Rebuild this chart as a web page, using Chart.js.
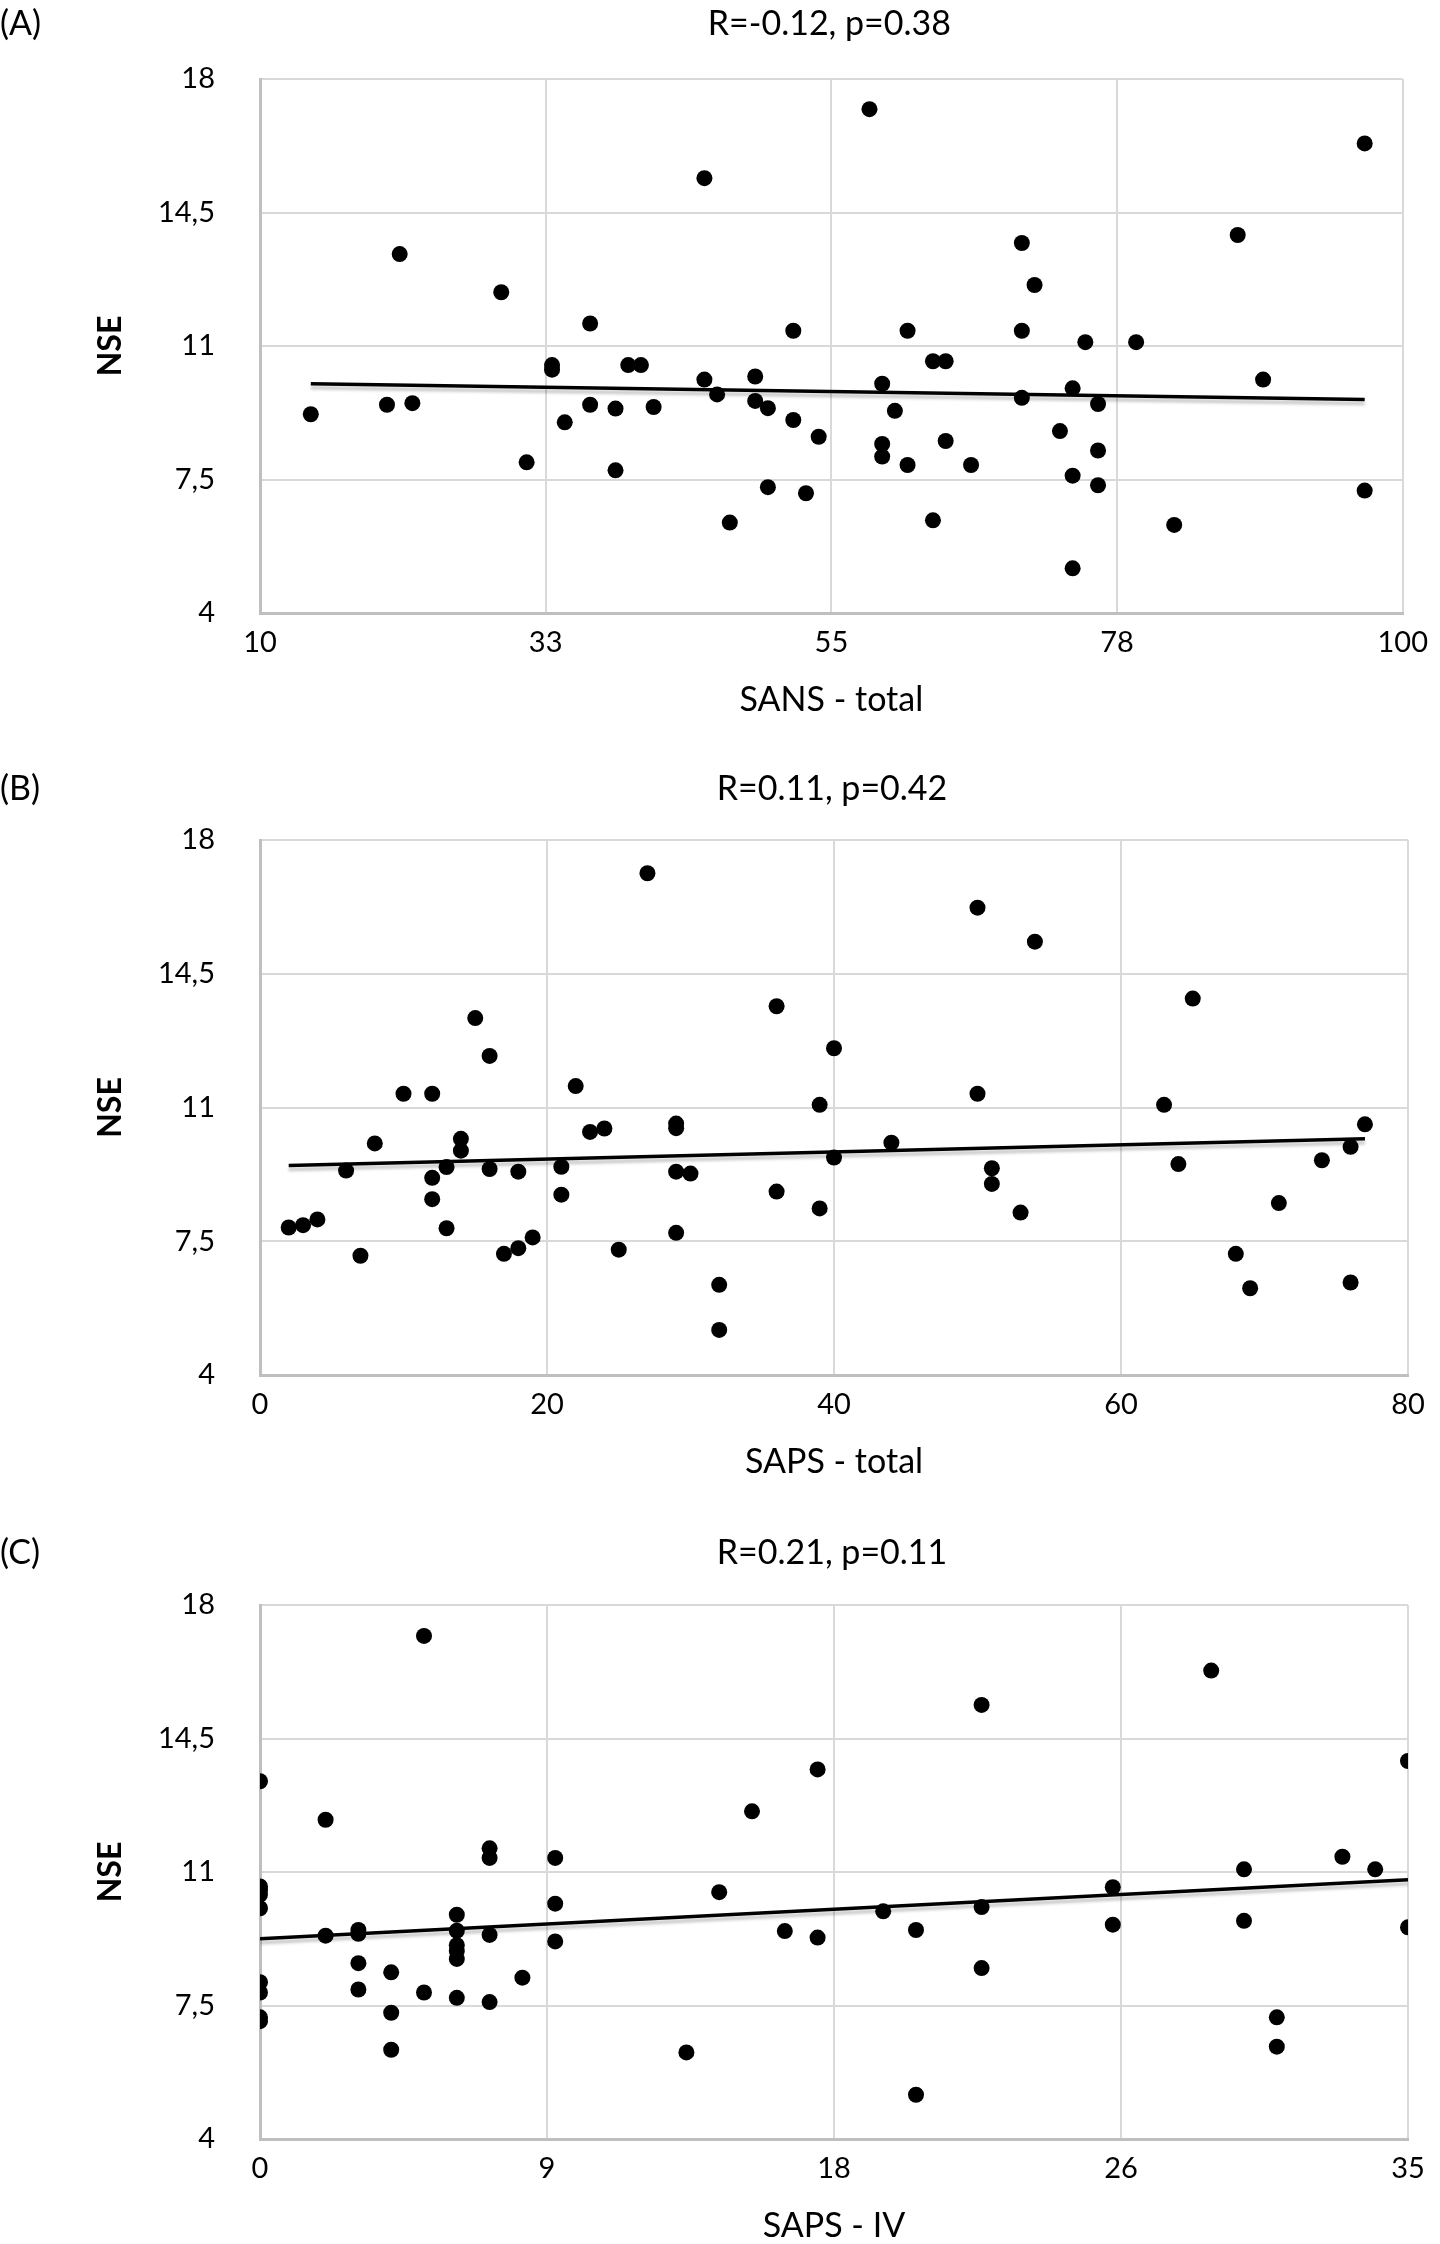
<!DOCTYPE html>
<html>
<head>
<meta charset="utf-8">
<title>NSE scatter</title>
<script src="https://cdn.jsdelivr.net/npm/chart.js@4.4.1/dist/chart.umd.min.js"></script>
<style>
  html, body { margin: 0; padding: 0; background: #fff; overflow: hidden; }
  .panel { position: absolute; left: 0; width: 1440px; height: 765px; }
</style>
</head>
<body>
<div class="panel" style="top:0px"><canvas id="chartA" width="1440" height="765"></canvas></div>
<div class="panel" style="top:765px"><canvas id="chartB" width="1440" height="765"></canvas></div>
<div class="panel" style="top:1530px"><canvas id="chartC" width="1440" height="765"></canvas></div>
<script>
// shared y axis
var yTickLabels = ['4', '7,5', '11', '14,5', '18'];

// (A) SANS - total vs NSE
var sansTotal = [14, 20, 22, 21, 29, 31, 33, 33, 34, 36, 36, 38, 38, 39, 40, 41, 45, 45, 46, 47,
  49, 49, 50, 50, 52, 52, 53, 54, 58, 59, 59, 59, 60, 61, 61, 63, 63, 64, 64, 66,
  70, 70, 70, 71, 73, 74, 74, 74, 75, 76, 76, 76, 79, 82, 87, 89, 97, 97];
var nseA = [9.21, 9.46, 9.5, 13.41, 12.41, 7.95, 10.5, 10.38, 9.0, 11.59, 9.46, 9.36, 7.74, 10.5, 10.5, 9.4, 15.4, 10.12, 9.73, 6.37,
  10.2, 9.56, 9.37, 7.3, 11.4, 9.06, 7.14, 8.62, 17.21, 10.01, 8.43, 8.1, 9.3, 11.4, 7.88, 10.6, 6.43, 10.6, 8.51, 7.88,
  13.7, 11.4, 9.64, 12.6, 8.77, 9.89, 7.6, 5.17, 11.1, 9.48, 8.26, 7.35, 11.1, 6.31, 13.91, 10.12, 16.31, 7.21];
var trendA = [[14, 10.01], [97, 9.6]];
var xTickLabelsA = ['10', '33', '55', '78', '100'];

// (B) SAPS - total vs NSE
var sapsTotal = [2, 3, 4, 6, 7, 8, 10, 12, 12, 12, 13, 13, 14, 14, 15, 16, 16, 17, 18, 18,
  19, 21, 21, 22, 23, 24, 25, 27, 29, 29, 29, 29, 30, 32, 32, 36, 36, 39, 39, 40,
  40, 44, 50, 50, 51, 51, 53, 54, 63, 64, 65, 68, 69, 71, 74, 76, 76, 77];
var nseB = [7.86, 7.92, 8.07, 9.35, 7.12, 10.06, 11.36, 11.36, 9.16, 8.6, 9.44, 7.84, 10.18, 9.87, 13.34, 12.35, 9.39, 7.17, 9.32, 7.32,
  7.6, 9.45, 8.72, 11.56, 10.36, 10.45, 7.28, 17.13, 10.58, 10.46, 9.32, 7.72, 9.27, 6.36, 5.18, 13.65, 8.8, 11.07, 8.36, 12.55,
  9.69, 10.08, 16.23, 11.36, 9.41, 9.0, 8.25, 15.34, 11.07, 9.52, 13.85, 7.17, 6.27, 8.5, 9.62, 9.97, 6.42, 10.56];
var trendB = [[2, 9.48], [77, 10.18]];
var xTickLabelsB = ['0', '20', '40', '60', '80'];

// (C) SAPS - IV vs NSE
var sapsIV = [0, 0, 0, 0, 0, 0, 0, 0, 0, 2, 2, 3, 3, 3, 3, 4, 4, 4, 5, 5,
  6, 6, 6, 6, 6, 6, 7, 7, 7, 7, 8, 9, 9, 9, 13, 14, 15, 16, 17, 17,
  19, 20, 20, 22, 22, 22, 26, 26, 29, 30, 30, 31, 31, 33, 34, 35, 35];
var nseC = [13.38, 10.62, 10.53, 10.41, 10.05, 8.11, 7.84, 7.19, 7.09, 12.37, 9.33, 9.48, 9.38, 8.61, 7.92, 8.37, 7.31, 6.34, 17.19, 7.84,
  9.88, 9.46, 9.08, 8.93, 8.72, 7.7, 11.62, 11.37, 9.35, 7.59, 8.23, 11.37, 10.17, 9.18, 6.27, 10.47, 12.59, 9.45, 13.69, 9.28,
  9.97, 9.48, 5.16, 15.38, 10.08, 8.48, 10.6, 9.62, 16.28, 11.07, 9.72, 7.19, 6.42, 11.4, 11.07, 13.91, 9.55];
var trendC = [[0, 9.25], [35, 10.8]];
var xTickLabelsC = ['0', '9', '18', '26', '35'];

Chart.defaults.font.family = 'Lato';
Chart.defaults.color = '#000';

function toPoints(xs, ys) {
  var pts = [];
  for (var i = 0; i < xs.length; i++) pts.push({ x: xs[i], y: ys[i] });
  return pts;
}

// even ticks from min to max, one per label
function evenTicks(labels) {
  return function(scale) {
    var n = labels.length - 1;
    var lo = scale.options.min, hi = scale.options.max;
    scale.ticks = labels.map(function(_, i) { return { value: lo + i * (hi - lo) / n }; });
  };
}

// soft grey shadow under the trend line (Excel look)
var trendShadow = {
  id: 'trendShadow',
  beforeDatasetDraw: function(chart, args) {
    if (args.index !== 0) return;
    var ctx = chart.ctx;
    ctx.save();
    ctx.shadowColor = 'rgba(0,0,0,0.22)';
    ctx.shadowOffsetY = 4;
    ctx.shadowBlur = 3;
  },
  afterDatasetDraw: function(chart, args) {
    if (args.index !== 0) return;
    chart.ctx.restore();
  }
};

var panelText = {
  id: 'panelText',
  afterDraw: function(chart, args, opts) {
    var ctx = chart.ctx, a = chart.chartArea;
    ctx.save();
    ctx.fillStyle = '#000';
    ctx.font = '34px Lato';
    ctx.textBaseline = 'middle';
    ctx.textAlign = 'left';
    ctx.fillText(opts.letter, 0, opts.y);
    ctx.textAlign = 'center';
    ctx.fillText(opts.title, (a.left + a.right) / 2 - 2, opts.y);
    ctx.restore();
  }
};

function makePanel(id, p) {
  var ctx = document.getElementById(id);
  return new Chart(ctx, {
    type: 'scatter',
    data: {
      datasets: [
        {
          label: 'trend',
          data: p.trend.map(function(t) { return { x: t[0], y: t[1] }; }),
          showLine: true,
          borderColor: '#000',
          borderWidth: 3.5,
          pointRadius: 0
        },
        {
          label: 'NSE',
          data: toPoints(p.xs, p.ys),
          backgroundColor: '#000',
          borderWidth: 0,
          pointRadius: 8
        }
      ]
    },
    options: {
      responsive: false,
      devicePixelRatio: 1,
      animation: false,
      events: [],
      layout: { padding: { left: 0, right: 32, top: p.top, bottom: 765 - p.bottom - 110 } },
      plugins: {
        legend: { display: false },
        tooltip: { enabled: false },
        panelText: { letter: p.letter, title: p.title, y: p.titleY }
      },
      scales: {
        x: {
          type: 'linear',
          min: p.xMin,
          max: p.xMax,
          afterBuildTicks: evenTicks(p.xLabels),
          afterFit: function(s) { s.height = 110; },
          ticks: {
            padding: 12,
            font: { size: 29 },
            callback: function(v, i) { return p.xLabels[i]; }
          },
          grid: { color: '#d9d9d9', lineWidth: 2, drawTicks: false },
          border: { color: '#bfbfbf', width: 3 },
          title: { display: true, text: p.xTitle, font: { size: 34 }, padding: { top: 0, bottom: 3 } }
        },
        y: {
          type: 'linear',
          min: 4,
          max: 18,
          afterBuildTicks: evenTicks(yTickLabels),
          afterFit: function(s) { s.width = 260; },
          ticks: {
            padding: 45,
            font: { size: 29 },
            callback: function(v, i) { return yTickLabels[i]; }
          },
          grid: { color: '#d9d9d9', lineWidth: 2, drawTicks: false },
          border: { color: '#bfbfbf', width: 3 },
          title: { display: true, text: 'NSE', font: { size: 32, weight: 'bold' }, padding: { top: 91, bottom: 0 } }
        }
      }
    },
    plugins: [trendShadow, panelText]
  });
}

makePanel('chartA', {
  letter: '(A)', title: 'R=-0.12, p=0.38', titleY: 24, top: 79, bottom: 613,
  xs: sansTotal, ys: nseA, trend: trendA, xMin: 10, xMax: 100, xLabels: xTickLabelsA, xTitle: 'SANS - total'
});
makePanel('chartB', {
  letter: '(B)', title: 'R=0.11, p=0.42', titleY: 24, top: 75, bottom: 610,
  xs: sapsTotal, ys: nseB, trend: trendB, xMin: 0, xMax: 80, xLabels: xTickLabelsB, xTitle: 'SAPS - total'
});
makePanel('chartC', {
  letter: '(C)', title: 'R=0.21, p=0.11', titleY: 23, top: 75, bottom: 609,
  xs: sapsIV, ys: nseC, trend: trendC, xMin: 0, xMax: 35, xLabels: xTickLabelsC, xTitle: 'SAPS - IV'
});
</script>
</body>
</html>
